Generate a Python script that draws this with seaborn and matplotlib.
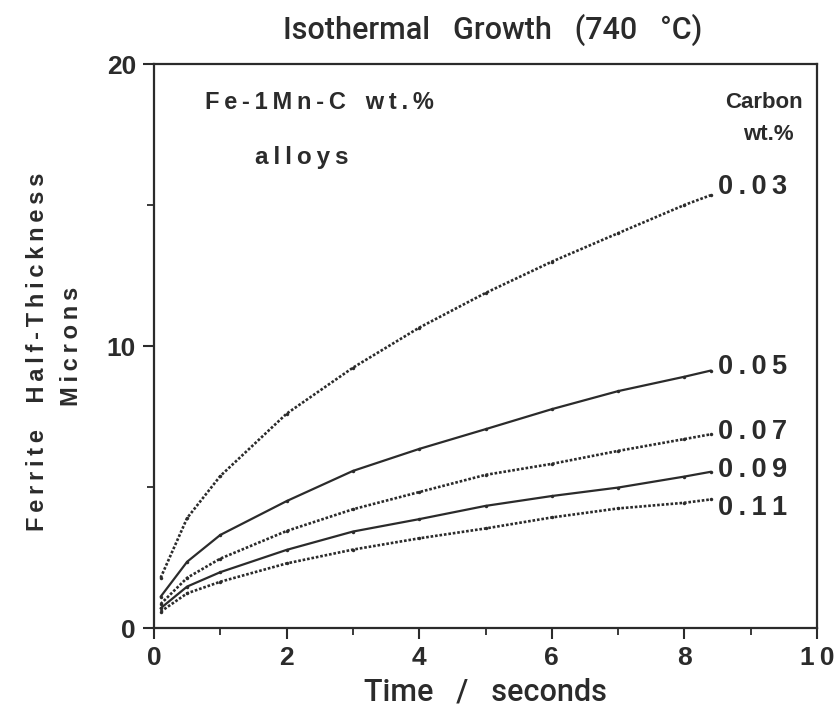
import numpy as np
import pandas as pd
import matplotlib
matplotlib.use("Agg")
import matplotlib.pyplot as plt
import seaborn as sns
from matplotlib.ticker import MultipleLocator

# ---- data ----
time_s = [0.1, 0.5, 1, 2, 3, 4, 5, 6, 7, 8, 8.4]
c003 = [1.78, 3.90, 5.39, 7.60, 9.23, 10.65, 11.88, 12.99, 14.00, 15.00, 15.35]
c005 = [1.11, 2.35, 3.30, 4.50, 5.57, 6.35, 7.05, 7.76, 8.40, 8.91, 9.13]
c007 = [0.85, 1.78, 2.46, 3.44, 4.21, 4.82, 5.43, 5.82, 6.28, 6.70, 6.87]
c009 = [0.70, 1.47, 1.98, 2.77, 3.42, 3.86, 4.33, 4.68, 4.98, 5.37, 5.54]
c011 = [0.58, 1.23, 1.64, 2.29, 2.78, 3.18, 3.53, 3.92, 4.24, 4.44, 4.56]
carbon_labels = ["0.03", "0.05", "0.07", "0.09", "0.11"]
series = [c003, c005, c007, c009, c011]
label_y = [15.64, 9.26, 6.95, 5.60, 4.26]
x_ticks = [0, 2, 4, 6, 8, 10]
y_ticks = [0, 10, 20]

sns.set_theme(style="white")
plt.rcParams['font.family'] = ['Liberation Sans', 'DejaVu Sans']

INK = "#2b2b2b"
TS = "\u2009"  # thin space for letter spacing


def spaced(s):
    return TS.join(list(s))


fig = plt.figure(figsize=(8.39, 7.16), dpi=100)
ax = fig.add_axes([154 / 839, 1 - 628 / 716, (817 - 154) / 839, (628 - 64) / 716])

rows = []
for lab, vals in zip(carbon_labels, series):
    for t, v in zip(time_s, vals):
        rows.append({"time": t, "thick": v, "carbon": lab})
df = pd.DataFrame(rows)

styles = {"0.03": (0, (1, 0.7)), "0.05": "-", "0.07": (0, (1, 0.7)),
          "0.09": "-", "0.11": (0, (1, 0.7))}
for lab in carbon_labels:
    sub = df[df["carbon"] == lab]
    dotted = styles[lab] != "-"
    sns.lineplot(data=sub, x="time", y="thick", ax=ax, color=INK,
                 linewidth=1.9 if dotted else 1.6, linestyle=styles[lab],
                 marker="o", markersize=2.5, markeredgewidth=0,
                 estimator=None, sort=False, legend=False)

for lab, ly in zip(carbon_labels, label_y):
    ax.text(8.50, ly, spaced(lab), ha="left", va="center", fontsize=19.5,
            fontweight="bold", color=INK)

ax.text(9.2, 18.62, "Carbon", ha="center", va="center", fontsize=16,
        fontweight="bold", color=INK)
ax.text(9.27, 17.5, "wt.%", ha="center", va="center", fontsize=16,
        fontweight="bold", color=INK)
ax.text(0.77, 18.65, spaced("Fe-1Mn-C") + "   " + spaced("wt.%"), ha="left",
        va="center", fontsize=17, fontweight="bold", color=INK)
ax.text(1.52, 16.67, spaced("alloys"), ha="left", va="center", fontsize=17.5,
        fontweight="bold", color=INK)

ax.set_xlim(0, 10)
ax.set_ylim(0, 20)
ax.set_xticks(x_ticks)
ax.set_yticks(y_ticks)
ax.set_xticklabels([spaced(str(v)) for v in x_ticks])
ax.set_yticklabels([str(v) for v in y_ticks])
ax.xaxis.set_minor_locator(MultipleLocator(1))
ax.yaxis.set_minor_locator(MultipleLocator(5))
ax.tick_params(which="major", direction="out", length=8, width=1.5,
               color=INK, labelsize=19, labelcolor=INK, pad=5,
               bottom=True, left=True)
ax.tick_params(which="minor", direction="out", length=5, width=1.3,
               color=INK, bottom=True, left=True)
for lbl in ax.get_xticklabels() + ax.get_yticklabels():
    lbl.set_fontweight("bold")
ax.set_xlabel("")
ax.set_ylabel("")
for sp in ax.spines.values():
    sp.set_color(INK)
    sp.set_linewidth(1.6)

narrow = ['Roboto', 'Liberation Sans', 'DejaVu Sans']
fig.text(493 / 839, 1 - 30 / 716, "Isothermal   Growth   (740   \u00b0C)",
         ha="center", va="center", fontsize=22, fontweight="medium",
         color=INK, family=narrow)
fig.text(485 / 839, 1 - 692 / 716, "Time   /   seconds", ha="center",
         va="center", fontsize=22, fontweight="medium", color=INK,
         family=narrow)
fig.text(38 / 839, 1 - 352 / 716, spaced("Ferrite") + "    " + spaced("Half-Thickness"),
         ha="center", va="center", rotation=90, fontsize=17,
         fontweight="bold", color=INK)
fig.text(72 / 839, 1 - 346 / 716, spaced("Microns"), ha="center",
         va="center", rotation=90, fontsize=17, fontweight="bold", color=INK)

fig.savefig("out.png", dpi=100)
